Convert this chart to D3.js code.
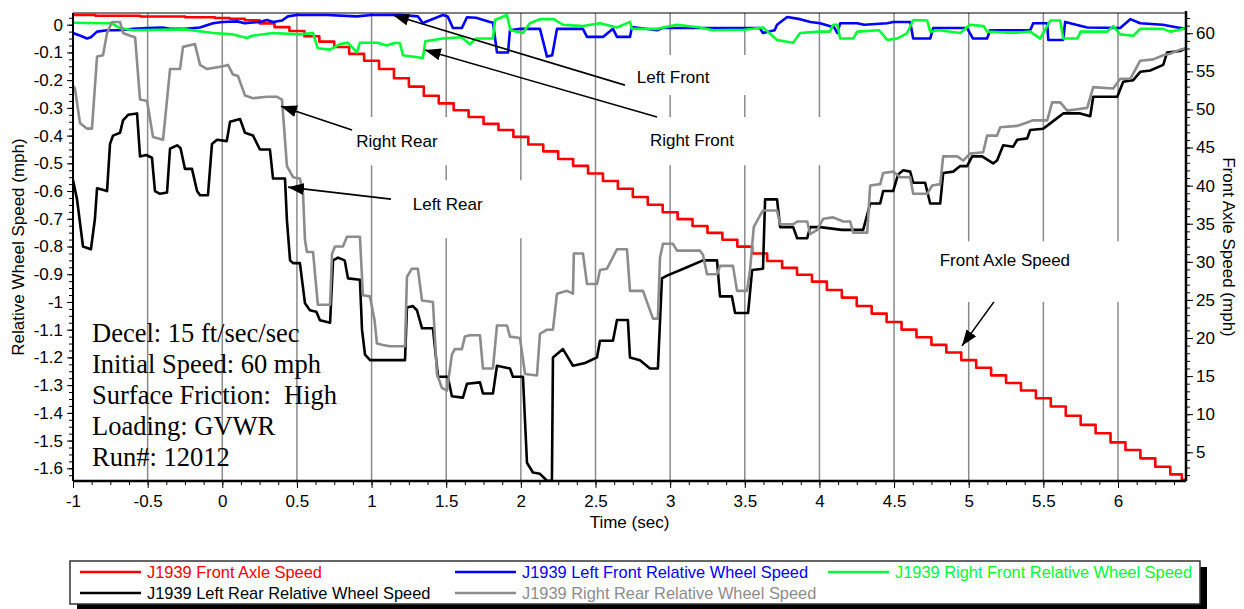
<!DOCTYPE html>
<html>
<head>
<meta charset="utf-8">
<script src="https://cdn.jsdelivr.net/npm/d3@7"></script>
<style>
  body { margin: 0; background: #fff; }
  text { font-family: "Liberation Sans", Arial, sans-serif; }
  .cond { font-family: "Liberation Serif", "Times New Roman", serif; white-space: pre; }
</style>
</head>
<body>
<svg id="chart" width="1244" height="609"></svg>
<script>
// tick values
const xTicks = [-1, -0.5, 0, 0.5, 1, 1.5, 2, 2.5, 3, 3.5, 4, 4.5, 5, 5.5, 6];
const leftTicks = [0, -0.1, -0.2, -0.3, -0.4, -0.5, -0.6, -0.7, -0.8, -0.9, -1, -1.1, -1.2, -1.3, -1.4, -1.5, -1.6];
const rightTicks = [5, 10, 15, 20, 25, 30, 35, 40, 45, 50, 55, 60];
const gridTimes = [-0.5, 0, 0.5, 1, 1.5, 2, 2.5, 3, 3.5, 4, 4.5, 5, 5.5, 6];

// [time (sec), speed (mph)] - right axis
const frontAxle = [[-1,62.4],[-0.9,62.4],[-0.8,62.3],[-0.7,62.3],[-0.6,62.3],[-0.5,62.2],[-0.4,62.2],[-0.3,62.2],[-0.2,62.1],[-0.1,62.1],[0,62.0],[0.1,61.9],[0.2,61.7],[0.3,61.3],[0.4,60.8],[0.5,60.3],[0.6,59.6],[0.7,58.9],[0.8,58.2],[0.9,57.3],[1.0,56.4],[1.1,55.3],[1.2,54.1],[1.3,53.0],[1.4,51.8],[1.5,50.8],[1.6,49.9],[1.7,49.0],[1.8,48.1],[1.9,47.3],[2.0,46.4],[2.1,45.4],[2.2,44.5],[2.3,43.5],[2.4,42.6],[2.5,41.6],[2.6,40.6],[2.7,39.6],[2.8,38.5],[2.9,37.5],[3.0,36.5],[3.1,35.6],[3.2,34.7],[3.3,33.8],[3.4,32.9],[3.5,32.0],[3.6,31.1],[3.7,30.1],[3.8,29.2],[3.9,28.3],[4.0,27.4],[4.1,26.3],[4.2,25.3],[4.3,24.2],[4.4,23.2],[4.5,22.1],[4.6,21.1],[4.7,20.1],[4.8,19.1],[4.9,18.1],[5.0,17.1],[5.1,16.1],[5.2,15.1],[5.3,14.1],[5.4,13.1],[5.5,12.1],[5.6,11.0],[5.7,9.8],[5.8,8.6],[5.9,7.5],[6.0,6.3],[6.1,5.3],[6.2,4.2],[6.3,3.1],[6.4,2.1],[6.455,1.4]];

// [time (sec), relative wheel speed (mph)] - left axis
const leftFront = [[-1,-0.03],[-0.95,-0.04],[-0.906,-0.05],[-0.88,-0.045],[-0.839,-0.025],[-0.772,-0.02],[-0.7,-0.02],[-0.6,-0.015],[-0.5,-0.012],[-0.4,-0.01],[-0.35,-0.015],[-0.25,-0.015],[-0.15,-0.01],[-0.062,0.005],[0,0.01],[0.1,0.012],[0.15,0.005],[0.25,0.01],[0.3,0.017],[0.34,0.01],[0.4,0.015],[0.44,0.03],[0.5,0.035],[0.7,0.035],[0.9,0.03],[1.0,0.035],[1.2,0.035],[1.31,0.03],[1.344,0.005],[1.36,0.01],[1.478,0.035],[1.51,0.03],[1.545,-0.012],[1.605,-0.012],[1.639,0.027],[1.7,0.025],[1.793,0.01],[1.813,0.008],[1.84,-0.1],[1.914,-0.1],[1.927,-0.02],[1.994,-0.015],[2.128,-0.015],[2.175,-0.115],[2.21,-0.11],[2.242,-0.015],[2.416,-0.015],[2.443,-0.044],[2.55,-0.044],[2.617,-0.015],[2.644,-0.044],[2.731,-0.044],[2.744,-0.008],[2.912,-0.02],[2.95,-0.012],[3.6,-0.012],[3.622,-0.03],[3.7,-0.02],[3.716,0],[3.784,0.028],[3.87,0.02],[3.94,0.01],[4.005,0.005],[4.1,-0.01],[4.119,-0.03],[4.139,0.005],[4.253,0.005],[4.3,0],[4.454,0.005],[4.494,0.01],[4.608,0.01],[4.628,-0.05],[4.742,-0.05],[4.762,-0.012],[4.989,-0.012],[5.029,-0.05],[5.123,-0.05],[5.143,-0.02],[5.412,-0.02],[5.432,0.005],[5.526,0.005],[5.533,-0.055],[5.633,-0.055],[5.646,0.01],[5.794,-0.01],[6.015,-0.012],[6.082,0.02],[6.149,0.005],[6.3,0],[6.4,-0.01],[6.456,-0.015]];

const rightFront = [[-1,0.007],[-0.8,0.005],[-0.74,0.005],[-0.685,-0.012],[-0.598,-0.02],[-0.25,-0.017],[-0.062,-0.03],[0.072,-0.035],[0.165,-0.048],[0.2,-0.04],[0.34,-0.03],[0.52,-0.035],[0.608,-0.03],[0.64,-0.085],[0.722,-0.09],[0.788,-0.07],[0.84,-0.065],[0.902,-0.1],[0.922,-0.065],[1.04,-0.065],[1.1,-0.075],[1.16,-0.065],[1.19,-0.067],[1.21,-0.11],[1.344,-0.12],[1.36,-0.06],[1.478,-0.05],[1.6,-0.045],[1.66,-0.07],[1.7,-0.05],[1.813,-0.05],[1.827,0.017],[1.907,0.035],[1.93,-0.02],[2.014,-0.03],[2.06,0.005],[2.128,0.02],[2.22,0.02],[2.282,0],[2.416,-0.005],[2.53,0.005],[2.644,-0.01],[2.731,0.01],[2.744,-0.015],[2.912,-0.015],[3.046,0],[3.2,-0.01],[3.287,-0.02],[3.5,-0.018],[3.622,-0.01],[3.716,-0.055],[3.824,-0.065],[3.871,-0.03],[4.0,-0.025],[4.07,-0.025],[4.092,0],[4.12,0],[4.139,-0.05],[4.226,-0.05],[4.253,-0.025],[4.4,-0.02],[4.454,-0.055],[4.52,-0.05],[4.588,-0.03],[4.628,0.017],[4.722,0.015],[4.742,-0.025],[4.8,-0.02],[4.943,-0.03],[5.009,0],[5.1,-0.005],[5.123,-0.025],[5.3,-0.03],[5.412,-0.025],[5.479,-0.05],[5.546,0.015],[5.613,0.015],[5.633,-0.05],[5.727,-0.05],[5.75,-0.025],[5.928,-0.025],[5.968,-0.005],[6.015,-0.035],[6.102,-0.04],[6.149,-0.015],[6.3,-0.015],[6.349,-0.025],[6.4,-0.02],[6.456,-0.012]];

const leftRear = [[-1,-0.56],[-0.973,-0.63],[-0.933,-0.8],[-0.88,-0.81],[-0.853,-0.7],[-0.839,-0.59],[-0.772,-0.6],[-0.752,-0.43],[-0.732,-0.4],[-0.685,-0.39],[-0.665,-0.345],[-0.631,-0.325],[-0.571,-0.32],[-0.551,-0.475],[-0.51,-0.47],[-0.471,-0.48],[-0.451,-0.6],[-0.418,-0.61],[-0.37,-0.605],[-0.35,-0.447],[-0.303,-0.435],[-0.28,-0.445],[-0.25,-0.52],[-0.203,-0.52],[-0.169,-0.6],[-0.149,-0.615],[-0.096,-0.615],[-0.069,-0.43],[-0.035,-0.415],[0.03,-0.42],[0.052,-0.35],[0.119,-0.34],[0.152,-0.39],[0.206,-0.4],[0.252,-0.45],[0.319,-0.45],[0.34,-0.555],[0.42,-0.555],[0.433,-0.705],[0.454,-0.85],[0.474,-0.86],[0.52,-0.86],[0.554,-1.005],[0.587,-1.03],[0.63,-1.035],[0.654,-1.066],[0.722,-1.075],[0.742,-0.85],[0.775,-0.84],[0.82,-0.85],[0.842,-0.915],[0.922,-0.92],[0.936,-1.1],[0.956,-1.19],[0.99,-1.21],[1.224,-1.21],[1.237,-1.02],[1.277,-1.015],[1.304,-1.03],[1.338,-1.095],[1.411,-1.095],[1.445,-1.27],[1.511,-1.27],[1.538,-1.34],[1.612,-1.345],[1.639,-1.295],[1.726,-1.29],[1.746,-1.33],[1.813,-1.33],[1.84,-1.23],[1.927,-1.24],[1.947,-1.27],[2.014,-1.27],[2.041,-1.58],[2.081,-1.615],[2.128,-1.62],[2.175,-1.645],[2.208,-1.645],[2.215,-1.2],[2.282,-1.17],[2.349,-1.23],[2.43,-1.22],[2.51,-1.2],[2.53,-1.14],[2.617,-1.14],[2.644,-1.065],[2.717,-1.065],[2.731,-1.2],[2.798,-1.21],[2.865,-1.24],[2.918,-1.24],[2.945,-0.915],[2.979,-0.905],[3.113,-0.875],[3.22,-0.85],[3.314,-0.85],[3.334,-0.98],[3.414,-0.98],[3.435,-1.04],[3.522,-1.04],[3.549,-0.885],[3.622,-0.88],[3.636,-0.63],[3.716,-0.63],[3.737,-0.73],[3.824,-0.73],[3.851,-0.77],[3.918,-0.77],[3.938,-0.73],[4.005,-0.73],[4.15,-0.74],[4.293,-0.74],[4.34,-0.645],[4.407,-0.645],[4.427,-0.6],[4.494,-0.6],[4.527,-0.54],[4.561,-0.525],[4.608,-0.53],[4.628,-0.57],[4.708,-0.57],[4.742,-0.645],[4.809,-0.645],[4.829,-0.535],[4.896,-0.53],[4.943,-0.51],[4.989,-0.51],[5.023,-0.475],[5.09,-0.475],[5.164,-0.5],[5.19,-0.49],[5.231,-0.435],[5.298,-0.44],[5.325,-0.415],[5.392,-0.41],[5.412,-0.38],[5.499,-0.375],[5.546,-0.356],[5.633,-0.32],[5.747,-0.32],[5.814,-0.33],[5.834,-0.26],[5.995,-0.26],[6.035,-0.206],[6.102,-0.2],[6.149,-0.17],[6.216,-0.165],[6.303,-0.145],[6.329,-0.1],[6.416,-0.095],[6.456,-0.085]];

const rightRear = [[-1,-0.22],[-0.987,-0.23],[-0.953,-0.355],[-0.906,-0.375],[-0.873,-0.375],[-0.839,-0.115],[-0.799,-0.11],[-0.772,-0.03],[-0.739,0.01],[-0.685,0.01],[-0.665,-0.03],[-0.618,-0.04],[-0.584,-0.045],[-0.551,-0.27],[-0.504,-0.275],[-0.464,-0.405],[-0.397,-0.415],[-0.37,-0.27],[-0.35,-0.16],[-0.283,-0.16],[-0.263,-0.08],[-0.183,-0.07],[-0.149,-0.145],[-0.102,-0.16],[0.005,-0.15],[0.038,-0.145],[0.072,-0.18],[0.105,-0.185],[0.152,-0.255],[0.206,-0.265],[0.299,-0.26],[0.367,-0.26],[0.4,-0.27],[0.433,-0.51],[0.474,-0.55],[0.52,-0.555],[0.541,-0.61],[0.554,-0.777],[0.567,-0.82],[0.608,-0.82],[0.64,-1.01],[0.722,-1.01],[0.735,-0.826],[0.755,-0.8],[0.808,-0.8],[0.835,-0.765],[0.922,-0.765],[0.942,-0.976],[0.989,-0.98],[1.02,-1.066],[1.036,-1.15],[1.076,-1.155],[1.123,-1.16],[1.224,-1.16],[1.237,-0.91],[1.27,-0.88],[1.31,-0.88],[1.338,-0.995],[1.411,-1.0],[1.438,-1.26],[1.471,-1.31],[1.505,-1.32],[1.538,-1.19],[1.558,-1.17],[1.605,-1.17],[1.625,-1.125],[1.659,-1.12],[1.726,-1.12],[1.746,-1.24],[1.813,-1.24],[1.84,-1.085],[1.907,-1.085],[1.927,-1.125],[1.994,-1.13],[2.028,-1.26],[2.108,-1.265],[2.128,-1.115],[2.175,-1.1],[2.215,-1.1],[2.242,-0.97],[2.309,-0.96],[2.349,-0.97],[2.355,-0.825],[2.416,-0.825],[2.443,-0.935],[2.51,-0.935],[2.53,-0.885],[2.577,-0.88],[2.644,-0.81],[2.711,-0.81],[2.731,-0.96],[2.818,-0.96],[2.885,-1.06],[2.918,-1.06],[2.932,-0.84],[2.952,-0.79],[3.019,-0.79],[3.046,-0.815],[3.2,-0.815],[3.22,-0.83],[3.247,-0.9],[3.314,-0.9],[3.334,-0.87],[3.421,-0.87],[3.448,-0.96],[3.515,-0.96],[3.535,-0.885],[3.56,-0.73],[3.6,-0.69],[3.622,-0.67],[3.716,-0.67],[3.737,-0.72],[3.824,-0.72],[3.851,-0.71],[3.918,-0.71],[3.938,-0.755],[3.985,-0.74],[4.025,-0.7],[4.092,-0.695],[4.159,-0.71],[4.206,-0.71],[4.226,-0.75],[4.32,-0.75],[4.34,-0.58],[4.407,-0.575],[4.427,-0.535],[4.494,-0.53],[4.541,-0.55],[4.608,-0.55],[4.628,-0.61],[4.722,-0.61],[4.755,-0.58],[4.809,-0.575],[4.829,-0.475],[4.923,-0.475],[4.963,-0.49],[5.009,-0.465],[5.097,-0.46],[5.123,-0.4],[5.19,-0.4],[5.211,-0.37],[5.325,-0.365],[5.432,-0.345],[5.526,-0.345],[5.559,-0.28],[5.613,-0.28],[5.66,-0.31],[5.727,-0.305],[5.794,-0.3],[5.834,-0.225],[5.968,-0.23],[6.015,-0.195],[6.082,-0.195],[6.149,-0.13],[6.236,-0.125],[6.303,-0.11],[6.349,-0.105],[6.416,-0.09],[6.456,-0.085]];

const seriesNames = ["J1939 Front Axle Speed", "J1939 Left Front Relative Wheel Speed", "J1939 Right Front Relative Wheel Speed", "J1939 Left Rear Relative Wheel Speed", "J1939 Right Rear Relative Wheel Speed"];
const seriesColors = ["#ff0000", "#0000ff", "#00ff33", "#000000", "#8c8c8c"];

const conditions = ["Decel: 15 ft/sec/sec", "Initial Speed: 60 mph", "Surface Friction:  High", "Loading: GVWR", "Run#: 12012"];

// callouts, in data units (time, value on the given axis)
const callouts = [
  { text: "Left Front", axis: "left", at: [3.02, -0.212], box: [2.70, 3.67, -0.109, -0.254], from: [2.697, -0.218], to: [1.143, 0.035] },
  { text: "Right Front", axis: "left", at: [3.146, -0.437], box: [2.80, 4.07, -0.333, -0.507], from: [2.912, -0.333], to: [1.357, -0.091] },
  { text: "Right Rear", axis: "left", at: [1.17, -0.44], box: [0.869, 1.54, -0.333, -0.507], from: [0.869, -0.38], to: [0.393, -0.294] },
  { text: "Left Rear", axis: "left", at: [1.51, -0.668], box: [1.13, 2.06, -0.561, -0.770], from: [1.13, -0.629], to: [0.44, -0.586] },
  { text: "Front Axle Speed", axis: "right", at: [5.242, 29.5], box: [4.61, 6.045, 32.7, 24.74], from: [5.169, 24.74], to: [4.955, 18.97] },
];

const margin = { top: 13, right: 58, bottom: 128, left: 73 };
const width = 1244;
const height = 609;
const plotW = width - margin.left - margin.right;
const plotH = height - margin.top - margin.bottom;

const svg = d3.select('#chart');
const g = svg.append('g').attr('transform', `translate(${margin.left},${margin.top})`);

const x = d3.scaleLinear().domain([-1, 6.4555]).range([0, plotW]);
const yLeft = d3.scaleLinear().domain([-1.6458, 0.0422]).range([plotH, 0]);
const yRight = d3.scaleLinear().domain([1.23, 62.66]).range([plotH, 0]);
const fmt = (d) => String(+d.toFixed(2));

svg.append('defs').append('clipPath').attr('id', 'plot-clip')
  .append('rect').attr('width', plotW).attr('height', plotH);

svg.select('defs').append('marker')
  .attr('id', 'arrow')
  .attr('markerUnits', 'userSpaceOnUse')
  .attr('viewBox', '0 0 16 12')
  .attr('markerWidth', 16)
  .attr('markerHeight', 12)
  .attr('refX', 16)
  .attr('refY', 6)
  .attr('orient', 'auto')
  .append('path')
  .attr('d', 'M0,0 L16,6 L0,12 Z')
  .attr('fill', '#000');

// vertical grid
g.append('g').selectAll('line')
  .data(gridTimes)
  .join('line')
  .attr('x1', (d) => x(d)).attr('x2', (d) => x(d))
  .attr('y1', 0).attr('y2', plotH)
  .attr('stroke', '#8a8a8a')
  .attr('stroke-width', 1.5);

// white backgrounds of callout labels hide the grid
const yFor = (c) => (c.axis === 'left' ? yLeft : yRight);
g.append('g').selectAll('rect')
  .data(callouts)
  .join('rect')
  .attr('x', (c) => x(c.box[0]))
  .attr('width', (c) => x(c.box[1]) - x(c.box[0]))
  .attr('y', (c) => yFor(c)(c.box[2]))
  .attr('height', (c) => yFor(c)(c.box[3]) - yFor(c)(c.box[2]))
  .attr('fill', '#fff');

// series
const lines = g.append('g').attr('clip-path', 'url(#plot-clip)');
const leftLine = d3.line().x((d) => x(d[0])).y((d) => yLeft(d[1]));
const rightLine = d3.line().curve(d3.curveStep).x((d) => x(d[0])).y((d) => yRight(d[1]));

lines.append('path').datum(frontAxle).attr('d', rightLine)
  .attr('fill', 'none').attr('stroke', seriesColors[0]).attr('stroke-width', 2.6)
  .attr('stroke-linejoin', 'round');
[[leftFront, 1], [rightFront, 2], [leftRear, 3], [rightRear, 4]].forEach(([data, i]) => {
  lines.append('path').datum(data).attr('d', leftLine)
    .attr('fill', 'none')
    .attr('stroke', seriesColors[i])
    .attr('stroke-width', 2.6)
    .attr('stroke-linejoin', 'round');
});

// axes
const minorX = d3.range(-1, 6.46, 0.125);
const minorL = d3.range(-1.625, 0.041, 0.025);
const minorR = d3.range(2, 62.5, 1);

g.append('g').attr('transform', `translate(0,${plotH})`)
  .call(d3.axisBottom(x).tickValues(minorX).tickSize(4).tickFormat(''))
  .call((a) => a.select('.domain').remove());
const xAxis = g.append('g').attr('transform', `translate(0,${plotH})`)
  .call(d3.axisBottom(x).tickValues(xTicks).tickSize(7).tickPadding(7).tickFormat(fmt));
xAxis.select('.domain').attr('stroke-width', 2.5).attr('d', `M0,0H${plotW}`);

g.append('g')
  .call(d3.axisLeft(yLeft).tickValues(minorL).tickSize(4).tickFormat(''))
  .call((a) => a.select('.domain').remove());
const lAxis = g.append('g')
  .call(d3.axisLeft(yLeft).tickValues(leftTicks).tickSize(6).tickPadding(4).tickFormat(fmt));
lAxis.select('.domain').attr('stroke-width', 2).attr('d', `M0,0V${plotH}`);

g.append('g').attr('transform', `translate(${plotW},0)`)
  .call(d3.axisRight(yRight).tickValues(minorR).tickSize(4).tickFormat(''))
  .call((a) => a.select('.domain').remove());
const rAxis = g.append('g').attr('transform', `translate(${plotW},0)`)
  .call(d3.axisRight(yRight).tickValues(rightTicks).tickSize(7).tickPadding(3).tickFormat(fmt));
rAxis.select('.domain').attr('stroke-width', 2.5).attr('d', `M0,-2V${plotH}`);

g.selectAll('.tick text').attr('font-size', 17).attr('fill', '#000')
  .attr('font-family', '"Liberation Sans", Arial, sans-serif');
g.selectAll('.tick line').attr('stroke', '#000');

g.append('line').attr('x1', 0).attr('x2', plotW).attr('y1', 0).attr('y2', 0)
  .attr('stroke', '#000').attr('stroke-width', 1);

// axis titles
svg.append('text')
  .attr('transform', `translate(24,${margin.top + plotH / 2}) rotate(-90)`)
  .attr('text-anchor', 'middle').attr('font-size', 17)
  .text('Relative Wheel Speed (mph)');
svg.append('text')
  .attr('transform', `translate(1223,${margin.top + plotH / 2}) rotate(90)`)
  .attr('text-anchor', 'middle').attr('font-size', 17)
  .text('Front Axle Speed (mph)');
svg.append('text')
  .attr('x', margin.left + plotW / 2).attr('y', 528)
  .attr('text-anchor', 'middle').attr('font-size', 17)
  .text('Time (sec)');

// callouts
const notes = g.append('g');
notes.selectAll('line')
  .data(callouts)
  .join('line')
  .attr('x1', (c) => x(c.from[0])).attr('y1', (c) => yFor(c)(c.from[1]))
  .attr('x2', (c) => x(c.to[0])).attr('y2', (c) => yFor(c)(c.to[1]))
  .attr('stroke', '#000').attr('stroke-width', 1.6)
  .attr('marker-end', 'url(#arrow)');
notes.selectAll('text')
  .data(callouts)
  .join('text')
  .attr('x', (c) => x(c.at[0])).attr('y', (c) => yFor(c)(c.at[1]))
  .attr('text-anchor', 'middle').attr('font-size', 17)
  .text((c) => c.text);

// test conditions
g.append('g').selectAll('text')
  .data(conditions)
  .join('text')
  .attr('class', 'cond')
  .attr('x', 19)
  .attr('y', (d, i) => 329 + i * 31)
  .attr('font-size', 26.5)
  .text((d) => d);

// legend
const legend = svg.append('g').attr('transform', 'translate(70,561)');
legend.append('rect').attr('x', 7).attr('y', 6).attr('width', 1130).attr('height', 43).attr('fill', '#000');
legend.append('rect').attr('x', 0).attr('y', 0).attr('width', 1130).attr('height', 43)
  .attr('fill', '#fff').attr('stroke', '#333').attr('stroke-width', 1.5);
const legendPos = [[10, 11], [385, 11], [758, 11], [10, 32], [385, 32]];
const items = legend.selectAll('g.item')
  .data(seriesNames)
  .join('g')
  .attr('class', 'item')
  .attr('transform', (d, i) => `translate(${legendPos[i][0]},${legendPos[i][1]})`);
items.append('line').attr('x1', 0).attr('x2', 61)
  .attr('stroke', (d, i) => seriesColors[i]).attr('stroke-width', 2.6);
items.append('text').attr('x', 67).attr('dy', '0.35em')
  .attr('font-size', 16.4)
  .attr('fill', (d, i) => seriesColors[i])
  .text((d) => d);
</script>
</body>
</html>
